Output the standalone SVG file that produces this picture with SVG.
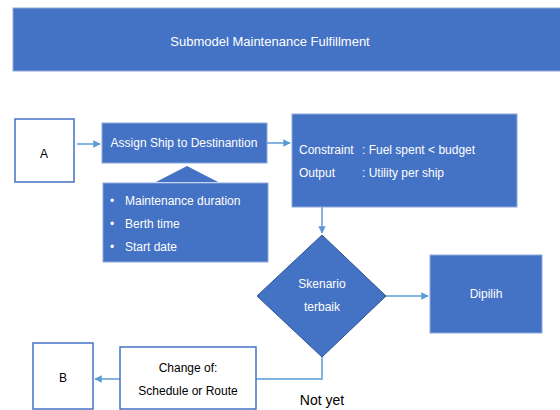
<svg xmlns="http://www.w3.org/2000/svg" width="560" height="410" viewBox="0 0 560 410">
<defs>
<style>
.blue{fill:#4472C4;stroke:#8FAADC;stroke-width:1}
.white{fill:#ffffff;stroke:#4472C4;stroke-width:1.5}
.tw{font-family:"Liberation Sans",Arial,sans-serif;font-size:12px;fill:#ffffff}
.tb{font-family:"Liberation Sans",Arial,sans-serif;font-size:12px;fill:#000000}
.con{fill:none;stroke:#5B9BD5;stroke-width:1.5}
</style>
<marker id="ah" viewBox="0 0 10 10" refX="9" refY="5" markerWidth="5" markerHeight="5" orient="auto">
<path d="M0,0 L10,5 L0,10 z" fill="#5B9BD5"/>
</marker>
</defs>
<rect width="560" height="410" fill="#ffffff"/>
<g id="title">
<rect x="13" y="8" width="550" height="63" fill="#4472C4" stroke="#8FAADC"/>
<text x="270" y="46" class="tw" font-size="13" text-anchor="middle" style="font-size:13px">Submodel Maintenance Fulfillment</text>
</g>
<g id="connectors">
<line x1="77" y1="144" x2="100" y2="144" class="con" marker-end="url(#ah)"/>
<line x1="267" y1="143" x2="290" y2="143" class="con" marker-end="url(#ah)"/>
<line x1="322" y1="207" x2="322" y2="233" class="con" marker-end="url(#ah)"/>
<line x1="386" y1="296" x2="428" y2="296" class="con" marker-end="url(#ah)"/>
<polyline points="322,357 322,379 256,379" class="con"/>
<line x1="120" y1="379" x2="95" y2="379" class="con" marker-end="url(#ah)"/>
</g>
<g id="nodeA">
<rect x="15" y="119" width="59" height="63" class="white"/>
<text x="44" y="158" class="tb" text-anchor="middle">A</text>
</g>
<g id="assign">
<rect x="102" y="123" width="165" height="40" class="blue"/>
<text x="184" y="147" class="tw" text-anchor="middle">Assign Ship to Destinantion</text>
</g>
<g id="inputs">
<polygon points="156,182 187,166 218,182" fill="#4472C4"/>
<rect x="103" y="183" width="165" height="79" class="blue"/>
<text class="tw"><tspan x="110" y="205">•</tspan><tspan x="125" y="205">Maintenance duration</tspan></text>
<text class="tw"><tspan x="110" y="228">•</tspan><tspan x="125" y="228">Berth time</tspan></text>
<text class="tw"><tspan x="110" y="251">•</tspan><tspan x="125" y="251">Start date</tspan></text>
</g>
<g id="constraint">
<rect x="292" y="114" width="225" height="93" class="blue"/>
<text class="tw"><tspan x="299" y="154">Constraint</tspan><tspan x="362" y="154">: Fuel spent &lt; budget</tspan></text>
<text class="tw"><tspan x="299" y="177">Output</tspan><tspan x="362" y="177">: Utility per ship</tspan></text>
</g>
<g id="decision">
<polygon points="322,235 386,296 322,357 257,296" fill="#4472C4" stroke="#2F528F" stroke-width="1"/>
<text x="322" y="288" class="tw" text-anchor="middle">Skenario</text>
<text x="322" y="311" class="tw" text-anchor="middle">terbaik</text>
</g>
<g id="dipilih">
<rect x="430" y="255" width="112" height="78" class="blue"/>
<text x="486" y="298" class="tw" text-anchor="middle">Dipilih</text>
</g>
<g id="change">
<rect x="120" y="347" width="136" height="62" class="white"/>
<text x="188" y="372" class="tb" text-anchor="middle">Change of:</text>
<text x="188" y="395" class="tb" text-anchor="middle">Schedule or Route</text>
</g>
<g id="nodeB">
<rect x="33" y="343" width="60" height="66" class="white"/>
<text x="63" y="382" class="tb" text-anchor="middle">B</text>
</g>
<g id="notyet">
<text x="322" y="405" class="tb" text-anchor="middle" style="font-size:14px">Not yet</text>
</g>
</svg>
